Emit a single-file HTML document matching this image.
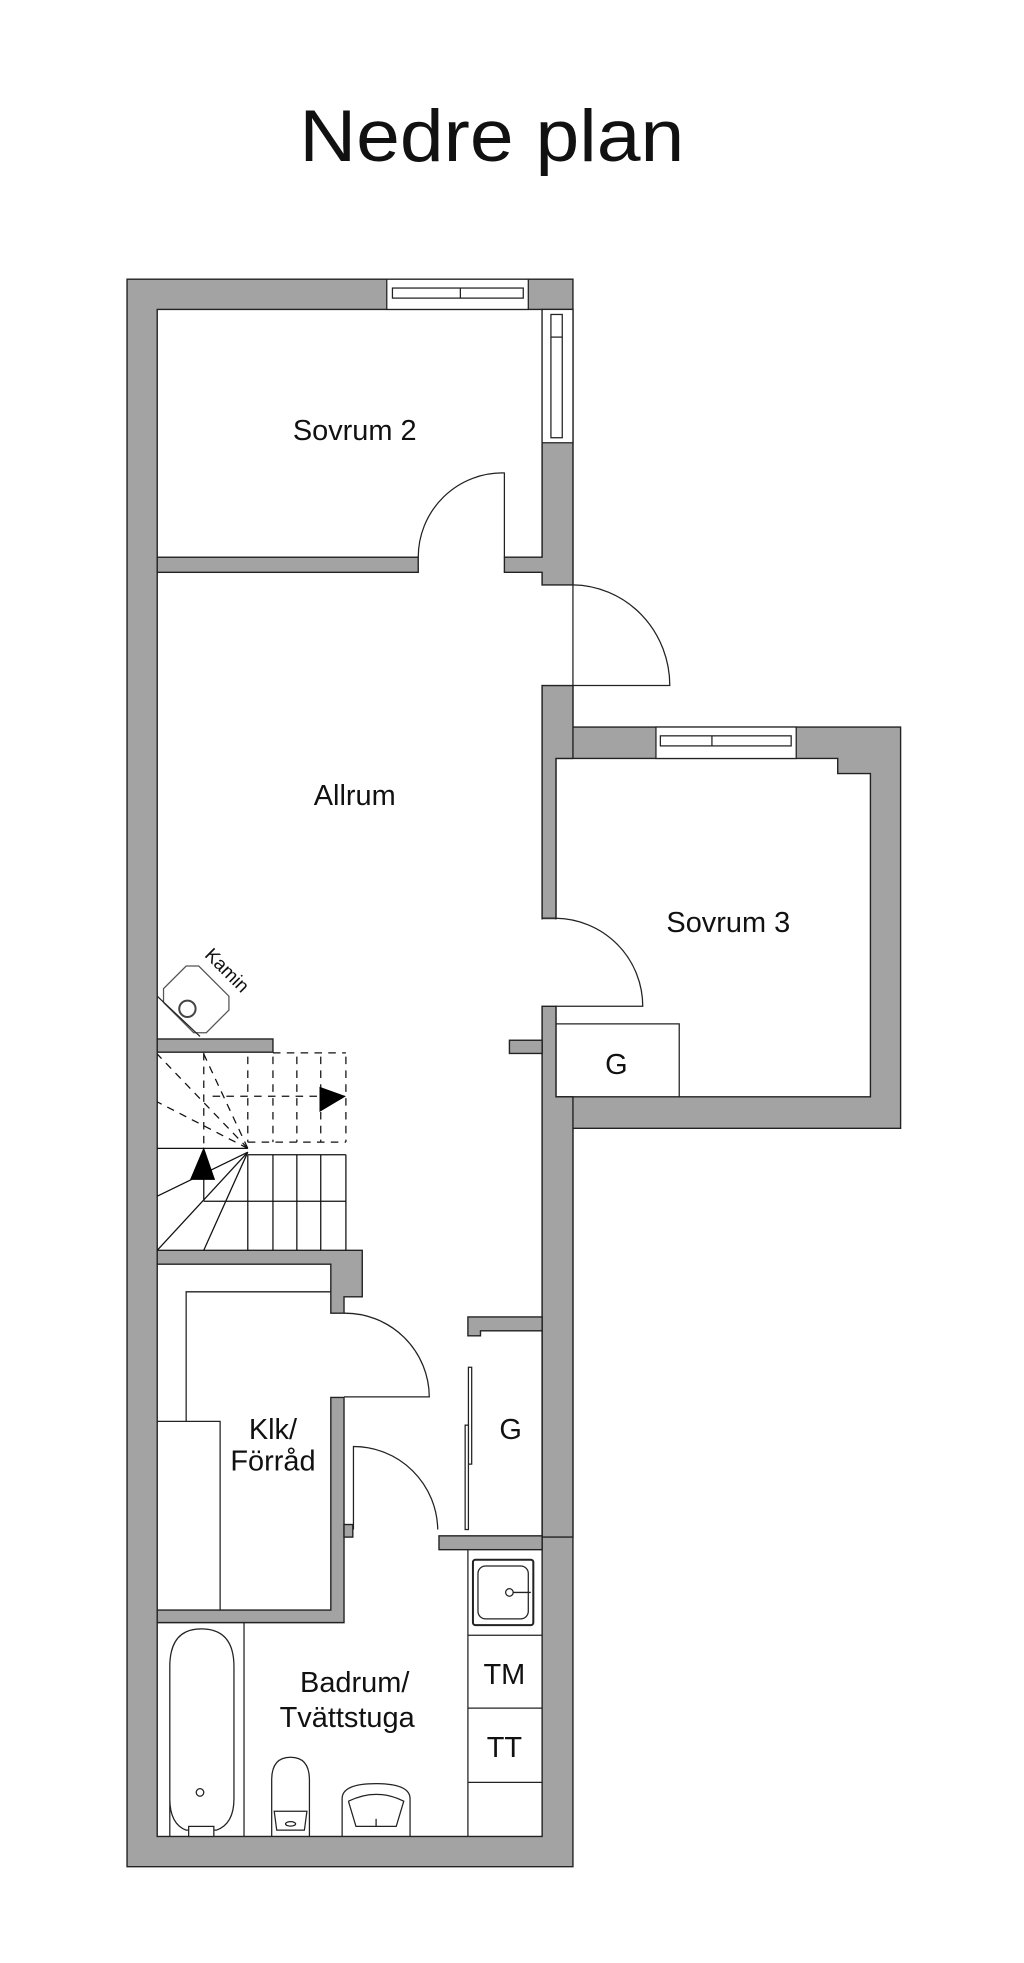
<!DOCTYPE html>
<html><head><meta charset="utf-8"><style>
html,body{margin:0;padding:0;background:#fff;}
svg{display:block;}
text{font-family:"Liberation Sans",sans-serif;fill:#111;}
</style></head><body>
<svg width="1024" height="1963" viewBox="0 0 814.1 1560.6" preserveAspectRatio="none" xmlns="http://www.w3.org/2000/svg">
<rect x="0" y="0" width="814.1" height="1560.6" fill="#fff"/>
<text x="391" y="128" font-size="58" text-anchor="middle" textLength="306" lengthAdjust="spacingAndGlyphs">Nedre plan</text>

<g stroke="#222" stroke-width="1.1">
<!-- outer -->
<polygon points="101,222 455.5,222 455.5,578 716,578 716,897 455.5,897 455.5,1484 101,1484" fill="#a3a3a3"/>
<!-- main interior -->
<rect x="125" y="246" width="306" height="1214" fill="#fff"/>
<!-- sovrum3 -->
<polygon points="442,603 666,603 666,615 692,615 692,872 442,872" fill="#fff"/>
</g>
<!-- openings -->
<rect x="430" y="465.5" width="26.5" height="79" fill="#fff"/>
<rect x="430" y="731" width="13" height="68.5" fill="#fff"/>
<rect x="429" y="246.6" width="3" height="196" fill="none"/>

<g stroke="#222" stroke-width="1.1" fill="#a3a3a3">
<!-- sovrum2 / allrum wall -->
<rect x="125" y="443" width="207.5" height="12"/>
<polygon points="401,443 431,443 431,246 455.5,246 455.5,465 431,465 431,455 401,455"/>
<!-- block at top of sovrum3 left wall -->
<polygon points="431,545 455.5,545 455.5,578 455.5,603 442,603 442,730 431,730"/>
<polygon points="431,800 442,800 442,872 455.5,872 455.5,897 455.5,1222 431,1222"/>
<!-- stubs -->
<rect x="405" y="827" width="26" height="10.5"/>
<rect x="125" y="826" width="92" height="10.5"/>
<!-- stair bottom wall + block -->
<polygon points="125,994 288,994 288,1031 273.5,1031 273.5,1044 263,1044 263,1005 125,1005"/>
<!-- klk right wall & bottom -->
<polygon points="263,1111 273.5,1111 273.5,1290 125,1290 125,1280 263,1280"/>
<rect x="273.5" y="1212" width="7" height="10"/>
<!-- G closet stub -->
<polygon points="372,1047 431,1047 431,1058 382,1058 382,1062 372,1062"/>
<!-- bath top wall -->
<rect x="349" y="1221" width="82" height="11"/>
</g>

<!-- windows -->
<g stroke="#222" stroke-width="1" fill="#fff">
<rect x="307.5" y="222" width="112.5" height="24"/>
<rect x="312" y="229" width="104" height="8"/>
<line x1="366" y1="229" x2="366" y2="237"/>
<rect x="431" y="246" width="24.5" height="106"/>
<rect x="438" y="250" width="9" height="98"/>
<line x1="438" y1="268" x2="447" y2="268"/>
<rect x="521.5" y="578" width="111.5" height="25"/>
<rect x="525" y="585" width="104" height="8"/>
<line x1="566" y1="585" x2="566" y2="593"/>
</g>

<!-- doors -->
<g stroke="#222" stroke-width="1" fill="none">
<path d="M401,443 L401,376 A67,67 0 0 0 332.5,443"/>
<path d="M455.5,465 L455.5,545 L532.5,545 A78,80 0 0 0 455.5,465"/>
<path d="M442,800 L511,800 A70,70 0 0 0 442,730"/>
<path d="M273.5,1044 A67,67 0 0 1 341.3,1110.5 L273.5,1110.5"/>
<path d="M281,1216 L281,1150 A67,67 0 0 1 348,1216"/>
<rect x="372.4" y="1087" width="2.6" height="77" fill="#fff"/>
<rect x="369.8" y="1133" width="2.6" height="83" fill="#fff"/>
<line x1="431" y1="1057" x2="431" y2="1222"/>
<!-- sovrum3 G -->
<polyline points="442,814 540,814 540,872"/>
<!-- klk internals -->
<polyline points="148,1130 148,1027 263,1027"/>
<polyline points="125,1130 175,1130 175,1280"/>
<!-- bath -->
<line x1="194" y1="1290" x2="194" y2="1460"/>
<polyline points="372,1232 372,1460"/>
<line x1="372" y1="1300" x2="431" y2="1300"/>
<line x1="372" y1="1358" x2="431" y2="1358"/>
<line x1="372" y1="1417" x2="431" y2="1417"/>
<rect x="376" y="1240" width="48" height="52" rx="2" stroke-width="1.6"/>
<rect x="380" y="1245" width="40" height="42" rx="6"/>
<circle cx="405" cy="1266" r="3"/>
<line x1="408" y1="1266" x2="422" y2="1266"/>
<path d="M135,1460 L135,1325 Q135,1295 160,1295 Q186,1295 186,1325 L186,1430 Q186,1450 172,1455 L148,1455 Q135,1450 135,1430"/>
<circle cx="159" cy="1425" r="3"/>
<rect x="150" y="1452" width="20" height="8" fill="#fff"/>
<path d="M216,1460 L216,1440 L216,1415 Q216,1397 231,1397 Q246,1397 246,1415 L246,1440 L246,1460"/>
<path d="M218,1440 L244,1440 L242,1455 L220,1455 Z"/>
<ellipse cx="231" cy="1450" rx="4" ry="1.8"/>
<path d="M272,1460 L272,1430 Q272,1418 299,1418 Q326,1418 326,1430 L326,1460"/>
<path d="M277,1432 L283,1452 L315,1452 L321,1432 Q299,1421 277,1432"/>
<line x1="299" y1="1446" x2="299" y2="1452"/>
</g>

<!-- stairs -->
<g stroke="#111" stroke-width="1" fill="none">
<line x1="125" y1="913" x2="197" y2="913"/>
<line x1="197" y1="918" x2="275" y2="918"/>
<line x1="162" y1="955" x2="275" y2="955"/>
<line x1="162" y1="913" x2="162" y2="955"/>
<line x1="197" y1="918" x2="197" y2="994"/>
<line x1="217" y1="918" x2="217" y2="994"/>
<line x1="236" y1="918" x2="236" y2="994"/>
<line x1="255" y1="918" x2="255" y2="994"/>
<line x1="275" y1="918" x2="275" y2="994"/>
<line x1="197" y1="916" x2="125" y2="951"/>
<line x1="197" y1="916" x2="125" y2="994"/>
<line x1="197" y1="916" x2="162" y2="994"/>
<g stroke-dasharray="6,5">
<line x1="217" y1="837" x2="275" y2="837"/>
<line x1="169" y1="871.5" x2="275" y2="871.5"/>
<line x1="197" y1="908" x2="275" y2="908"/>
<line x1="197" y1="840" x2="197" y2="908"/>
<line x1="217" y1="840" x2="217" y2="908"/>
<line x1="236" y1="840" x2="236" y2="908"/>
<line x1="255" y1="840" x2="255" y2="908"/>
<line x1="275" y1="840" x2="275" y2="908"/>
<line x1="162" y1="837" x2="162" y2="910"/>
<line x1="197" y1="913" x2="125" y2="838"/>
<line x1="197" y1="913" x2="125" y2="876"/>
<line x1="197" y1="913" x2="162" y2="838"/>
</g>
</g>
<polygon points="162,912 171,938 151,938" fill="#000"/>
<polygon points="254,864 275,871.5 254,884" fill="#000"/>

<!-- kamin -->
<g stroke="#555" stroke-width="1" fill="#fff">
<polygon points="148,768 158,768 182,792 182,803 164,821 154,821 130,797 130,786" transform="rotate(0)"/>
</g>
<line x1="125" y1="792" x2="159" y2="824" stroke="#222" stroke-width="1"/>
<circle cx="149" cy="802" r="6.5" fill="none" stroke="#444" stroke-width="1.6"/>
<text x="177" y="775" font-size="15" text-anchor="middle" transform="rotate(45 177 775)">Kamin</text>

<!-- labels -->
<g font-size="23">
<text x="282" y="350" text-anchor="middle">Sovrum 2</text>
<text x="282" y="640" text-anchor="middle">Allrum</text>
<text x="579" y="741" text-anchor="middle">Sovrum 3</text>
<text x="490" y="854" text-anchor="middle">G</text>
<text x="406" y="1144" text-anchor="middle">G</text>
<text x="217" y="1144" text-anchor="middle">Klk/</text>
<text x="217" y="1169" text-anchor="middle">Förråd</text>
<text x="282" y="1345" text-anchor="middle">Badrum/</text>
<text x="276" y="1373" text-anchor="middle">Tvättstuga</text>
<text x="401" y="1339" text-anchor="middle">TM</text>
<text x="401" y="1397" text-anchor="middle">TT</text>
</g>
</svg>
</body></html>
